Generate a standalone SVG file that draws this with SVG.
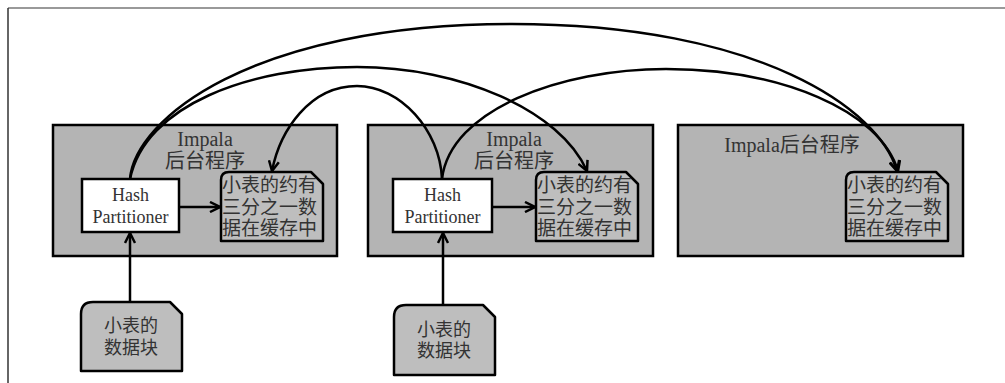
<svg xmlns="http://www.w3.org/2000/svg" width="1005" height="383" viewBox="0 0 1005 383">
<style>
.txt{font-family:"Liberation Serif","Noto Sans CJK SC",serif;fill:#333}
.host{fill:#b4b4b4;stroke:#000;stroke-width:2.5}
.hp{fill:#fff;stroke:#000;stroke-width:2.5}
.note{fill:#bebebe;stroke:#000;stroke-width:2.5;stroke-linejoin:round}
.conn{fill:none;stroke:#000;stroke-width:2.5}
</style>
<defs>
<marker id="arr" markerUnits="userSpaceOnUse" viewBox="0 0 12 12" markerWidth="12" markerHeight="12" refX="11" refY="6" orient="auto">
<path d="M1,1 L11,6 L1,11" fill="none" stroke="#000" stroke-width="2.5" stroke-linejoin="miter"/>
</marker>
</defs>
<rect width="1005" height="383" fill="#fff"/>
<path d="M8,8 H1005" stroke="#777" stroke-width="1.5" fill="none"/>
<path d="M8,8 V383" stroke="#333" stroke-width="1.5" fill="none"/>

<g id="host1">
<rect class="host" x="53" y="125" width="284" height="131"/>
<text class="txt" x="205" y="146" font-size="20" text-anchor="middle">Impala</text>
<text class="txt" x="205" y="168" font-size="20" text-anchor="middle">后台程序</text>
</g>
<g id="host2">
<rect class="host" x="368" y="125" width="285" height="131"/>
<text class="txt" x="514" y="146" font-size="20" text-anchor="middle">Impala</text>
<text class="txt" x="514" y="168" font-size="20" text-anchor="middle">后台程序</text>
</g>
<g id="host3">
<rect class="host" x="678" y="125" width="285" height="131"/>
<text class="txt" x="792" y="152" font-size="20" text-anchor="middle">Impala后台程序</text>
</g>

<g id="hp1">
<rect class="hp" x="82" y="179" width="97" height="53"/>
<text class="txt" x="130.5" y="201" font-size="18" text-anchor="middle">Hash</text>
<text class="txt" x="130.5" y="223" font-size="18" text-anchor="middle">Partitioner</text>
</g>
<g id="hp2">
<rect class="hp" x="393" y="179" width="99" height="53"/>
<text class="txt" x="442.5" y="201" font-size="18" text-anchor="middle">Hash</text>
<text class="txt" x="442.5" y="223" font-size="18" text-anchor="middle">Partitioner</text>
</g>

<g id="cache1">
<path class="note" d="M221,241 L221,180 Q221,172 229,172 L311,172 L323,184 L323,241 Z"/>
<text class="txt" x="222" y="192" font-size="19">小表的约有</text>
<text class="txt" x="222" y="214" font-size="19">三分之一数</text>
<text class="txt" x="222" y="235" font-size="19">据在缓存中</text>
</g>
<g id="cache2">
<path class="note" d="M536,241 L536,180 Q536,172 544,172 L626,172 L638,184 L638,241 Z"/>
<text class="txt" x="537" y="192" font-size="19">小表的约有</text>
<text class="txt" x="537" y="214" font-size="19">三分之一数</text>
<text class="txt" x="537" y="235" font-size="19">据在缓存中</text>
</g>
<g id="cache3">
<path class="note" d="M846,241 L846,180 Q846,172 854,172 L936,172 L948,184 L948,241 Z"/>
<text class="txt" x="847" y="192" font-size="19">小表的约有</text>
<text class="txt" x="847" y="214" font-size="19">三分之一数</text>
<text class="txt" x="847" y="235" font-size="19">据在缓存中</text>
</g>

<g id="block1">
<path class="note" d="M81,371 L81,314 Q81,302 93,302 L170,302 L182,314 L182,371 Z"/>
<text class="txt" x="131" y="332" font-size="18" text-anchor="middle">小表的</text>
<text class="txt" x="131" y="354" font-size="18" text-anchor="middle">数据块</text>
</g>
<g id="block2">
<path class="note" d="M394,375 L394,317 Q394,305 406,305 L483,305 L495,317 L495,375 Z"/>
<text class="txt" x="444" y="336" font-size="18" text-anchor="middle">小表的</text>
<text class="txt" x="444" y="357" font-size="18" text-anchor="middle">数据块</text>
</g>

<g id="connectors">
<path class="conn" d="M130,302 V233" marker-end="url(#arr)"/>
<path class="conn" d="M443,305 V233" marker-end="url(#arr)"/>
<path class="conn" d="M179,207 H220" marker-end="url(#arr)"/>
<path class="conn" d="M492,207 H535" marker-end="url(#arr)"/>
<path class="conn" d="M130,179 C135,120 250,24 512,24 C760,24 880,110 897,171" marker-end="url(#arr)"/>
<path class="conn" d="M130,179 C145,105 250,67 357,67 C460,67 560,110 587,171" marker-end="url(#arr)"/>
<path class="conn" d="M442,179 C440,130 400,86 357,86 C310,86 280,130 272,171" marker-end="url(#arr)"/>
<path class="conn" d="M442,179 C450,110 560,69 666,69 C780,69 880,110 898,171" marker-end="url(#arr)"/>
</g>
</svg>
